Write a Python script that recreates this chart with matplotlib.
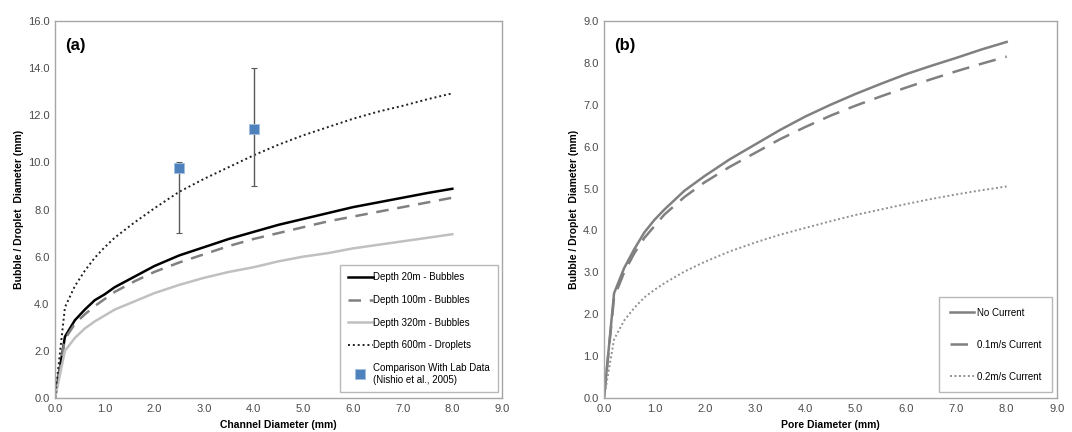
import matplotlib
matplotlib.use("Agg")
import matplotlib.pyplot as plt

plt.rcParams['font.family'] = ['Liberation Sans', 'DejaVu Sans']

# ---- data (a) ----
x_a = [0, 0.2, 0.4, 0.6, 0.8, 1.0, 1.2, 1.6, 2.0, 2.5, 3.0, 3.5, 4.0, 4.5, 5.0, 5.5, 6.0, 6.5, 7.0, 7.5, 8.0]
depth20 = [0, 2.6, 3.3, 3.75, 4.15, 4.4, 4.7, 5.15, 5.6, 6.05, 6.4, 6.75, 7.05, 7.35, 7.6, 7.85, 8.1, 8.3, 8.5, 8.7, 8.88]
depth100 = [0, 2.5, 3.15, 3.55, 3.9, 4.2, 4.5, 4.95, 5.35, 5.75, 6.1, 6.45, 6.75, 7.0, 7.25, 7.5, 7.7, 7.9, 8.1, 8.3, 8.5]
depth320 = [0, 2.0, 2.55, 2.95, 3.25, 3.5, 3.75, 4.1, 4.45, 4.8, 5.1, 5.35, 5.55, 5.8, 6.0, 6.15, 6.35, 6.5, 6.65, 6.8, 6.95]
depth600 = [0, 3.85, 4.75, 5.4, 5.95, 6.4, 6.8, 7.45, 8.05, 8.75, 9.3, 9.8, 10.3, 10.75, 11.15, 11.5, 11.85, 12.15, 12.4, 12.68, 12.93]
lab_x = [2.5, 4.0]
lab_y = [9.75, 11.4]
lab_low = [7.0, 9.0]
lab_high = [10.0, 14.0]

# ---- data (b) ----
x_b = [0, 0.2, 0.4, 0.6, 0.8, 1.0, 1.2, 1.6, 2.0, 2.5, 3.0, 3.5, 4.0, 4.5, 5.0, 5.5, 6.0, 6.5, 7.0, 7.5, 8.0]
no_current = [0, 2.5, 3.1, 3.55, 3.95, 4.25, 4.5, 4.95, 5.3, 5.7, 6.05, 6.4, 6.72, 7.0, 7.26, 7.5, 7.73, 7.93, 8.12, 8.32, 8.5]
current01 = [0, 2.4, 3.0, 3.45, 3.82, 4.1, 4.38, 4.8, 5.15, 5.52, 5.85, 6.18, 6.47, 6.74, 6.98, 7.2, 7.41, 7.61, 7.8, 7.98, 8.15]
current02 = [0, 1.4, 1.85, 2.15, 2.4, 2.58, 2.74, 3.02, 3.25, 3.5, 3.71, 3.9, 4.06, 4.22, 4.37, 4.5, 4.63, 4.75, 4.86, 4.96, 5.05]

xticks = [0, 1, 2, 3, 4, 5, 6, 7, 8, 9]

fig = plt.figure(figsize=(10.72, 4.32), dpi=100)
W, H = 1072, 432
axA = fig.add_axes([55 / W, (H - 398) / H, (502 - 55) / W, (398 - 21) / H])
axB = fig.add_axes([604 / W, (H - 398) / H, (1057 - 604) / W, (398 - 21) / H])

tick_col = '#4a4a4a'
spine_col = '#a6a6a6'

def style(ax, ymax, ystep):
    ax.set_xlim(0, 9)
    ax.set_ylim(0, ymax)
    ax.set_xticks(xticks)
    ax.set_xticklabels([f"{v:.1f}" for v in xticks])
    yt = [i * ystep for i in range(int(round(ymax / ystep)) + 1)]
    ax.set_yticks(yt)
    ax.set_yticklabels([f"{v:.1f}" for v in yt])
    ax.tick_params(length=0, labelsize=8, colors=tick_col, pad=4)
    for s in ax.spines.values():
        s.set_color(spine_col)
        s.set_linewidth(1.0)

# (a)
axA.plot(x_a, depth20, color='black', lw=1.8, label='Depth 20m - Bubbles')
axA.plot(x_a, depth100, color='#808080', lw=1.8, dashes=(5, 3.5), label='Depth 100m - Bubbles')
axA.plot(x_a, depth320, color='#c0c0c0', lw=1.8, label='Depth 320m - Bubbles')
axA.plot(x_a, depth600, color='#202020', lw=1.4, linestyle=(0, (1, 1.5)), label='Depth 600m - Droplets')
yerr = [[y - lo for y, lo in zip(lab_y, lab_low)], [hi - y for y, hi in zip(lab_y, lab_high)]]
axA.errorbar(lab_x, lab_y, yerr=yerr, fmt='none', ecolor='#595959', elinewidth=1.0, capsize=2.5, capthick=0.8)
axA.plot(lab_x, lab_y, linestyle='none', marker='s', markersize=7, markerfacecolor='#4f81bd',
         markeredgecolor='#a0c0e0', markeredgewidth=0.6,
         label='Comparison With Lab Data\n(Nishio et al., 2005)')
style(axA, 16, 2)
axA.set_xlabel('Channel Diameter (mm)', fontsize=7.5, fontweight='bold', labelpad=5)
axA.set_ylabel('Bubble / Droplet  Diameter (mm)', fontsize=7.5, fontweight='bold', labelpad=3)
axA.text(0.022, 0.955, '(a)', transform=axA.transAxes, fontsize=12, fontweight='bold', va='top', ha='left')
legA = axA.legend(loc='lower right', bbox_to_anchor=(0.99, 0.015), fontsize=7, frameon=True, fancybox=False,
                  edgecolor='#a6a6a6', labelspacing=1.3, handlelength=2.5, handletextpad=0.05,
                  borderpad=0.8, borderaxespad=0.0)
legA.get_frame().set_linewidth(1.0)

# (b)
axB.plot(x_b, no_current, color='#808080', lw=1.8, label='No Current')
axB.plot(x_b, current01, color='#808080', lw=1.8, dashes=(7, 4), label='0.1m/s Current')
axB.plot(x_b, current02, color='#909090', lw=1.4, linestyle=(0, (1, 1.3)), label='0.2m/s Current')
style(axB, 9, 1)
axB.set_xlabel('Pore Diameter (mm)', fontsize=7.5, fontweight='bold', labelpad=5)
axB.set_ylabel('Bubble / Droplet  Diameter (mm)', fontsize=7.5, fontweight='bold', labelpad=3)
axB.text(0.022, 0.955, '(b)', transform=axB.transAxes, fontsize=12, fontweight='bold', va='top', ha='left')
legB = axB.legend(loc='lower right', bbox_to_anchor=(0.99, 0.015), fontsize=7, frameon=True, fancybox=False,
                  edgecolor='#a6a6a6', labelspacing=2.25, handlelength=2.5, handletextpad=0.3,
                  borderpad=1.1, borderaxespad=0.0)
legB.get_frame().set_linewidth(1.0)

fig.savefig('out.png', dpi=100, facecolor='white')
